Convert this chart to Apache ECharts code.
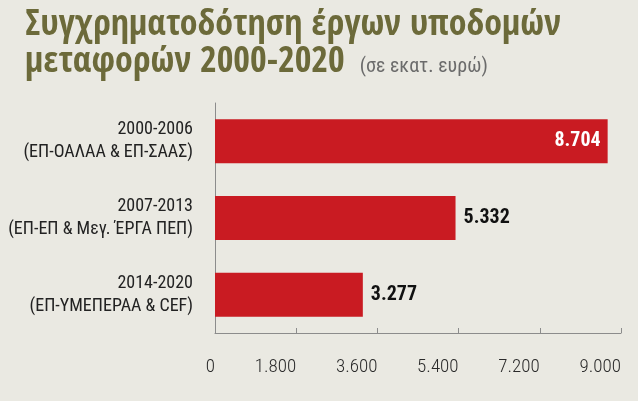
<!DOCTYPE html>
<html>
<head>
<meta charset="utf-8">
<script src="https://cdn.jsdelivr.net/npm/echarts@6/dist/echarts.min.js"></script>
<style>
  html, body { margin: 0; padding: 0; background: #eae9e2; }
  #main { width: 638px; height: 401px; }
</style>
</head>
<body>
<div id="main"></div>
<script>
// periods and programmes (top to bottom)
var periods = ['2000-2006', '2007-2013', '2014-2020'];
var programmes = ['(ΕΠ-ΟΑΛΑΑ & ΕΠ-ΣΑΑΣ)', '(ΕΠ-ΕΠ & Μεγ. ΈΡΓΑ ΠΕΠ)', '(ΕΠ-ΥΜΕΠΕΡΑΑ & CEF)'];
var funding = [8704, 5332, 3277]; // million euro

var TITLE_FONT = '"Open Sans Condensed", "Roboto Condensed", sans-serif';
var FONT = '"Roboto Condensed", sans-serif';

function fmt(v) {
  // greek thousands separator
  return String(v).replace(/\B(?=(\d{3})+(?!\d))/g, '.');
}

var categories = periods.map(function (p, i) { return p + '\n' + programmes[i]; });

var myChart = echarts.init(document.getElementById('main'));

var option = {
  backgroundColor: '#eae9e2',
  animation: false,
  title: {
    left: 20,
    top: 2,
    text: '{a|Συγχρηματοδότηση έργων υποδομών}\n{a|μεταφορών 2000-2020} {b|(σε εκατ. ευρώ)}',
    textStyle: {
      rich: {
        a: { fontFamily: TITLE_FONT, fontWeight: 'bold', fontSize: 36, lineHeight: 37, color: '#6c6a3a' },
        b: { fontFamily: FONT, fontWeight: 'normal', fontSize: 20, color: '#6b6b6b', padding: [8, 0, 0, 10] }
      }
    }
  },
  grid: { left: 215, right: 17, top: 103, bottom: 68, outerBoundsMode: 'none' },
  xAxis: {
    type: 'value',
    min: 0,
    max: 9000,
    interval: 1800,
    axisLine: { show: true, lineStyle: { color: '#8c8c8c', width: 1 } },
    axisTick: { show: true, inside: true, length: 5, lineStyle: { color: '#8c8c8c' } },
    splitLine: { show: false },
    axisLabel: {
      margin: 25,
      align: 'right',
      fontFamily: FONT,
      fontWeight: 300,
      fontSize: 19,
      color: '#2a2a2a',
      formatter: function (v) { return fmt(v); }
    }
  },
  yAxis: {
    type: 'category',
    inverse: true,
    data: categories,
    axisLine: { show: true, lineStyle: { color: '#8c8c8c', width: 1 } },
    axisTick: { show: false },
    axisLabel: {
      margin: 22,
      fontFamily: FONT,
      fontWeight: 'normal',
      fontSize: 18,
      lineHeight: 23,
      color: '#222',
      align: 'right',
      padding: [6, 0, 0, 0]
    }
  },
  series: [{
    type: 'bar',
    data: funding.map(function (v, i) {
      return {
        value: v,
        label: i === 0
          ? { position: 'insideRight', color: '#fff', offset: [-2, 0] }
          : { position: 'right', color: '#111', distance: 8 }
      };
    }),
    barWidth: 44,
    itemStyle: { color: '#c91b22' },
    label: {
      show: true,
      fontFamily: FONT,
      fontWeight: 'bold',
      fontSize: 20,
      formatter: function (p) { return fmt(p.value); }
    }
  }]
};

myChart.setOption(option);
</script>
</body>
</html>
